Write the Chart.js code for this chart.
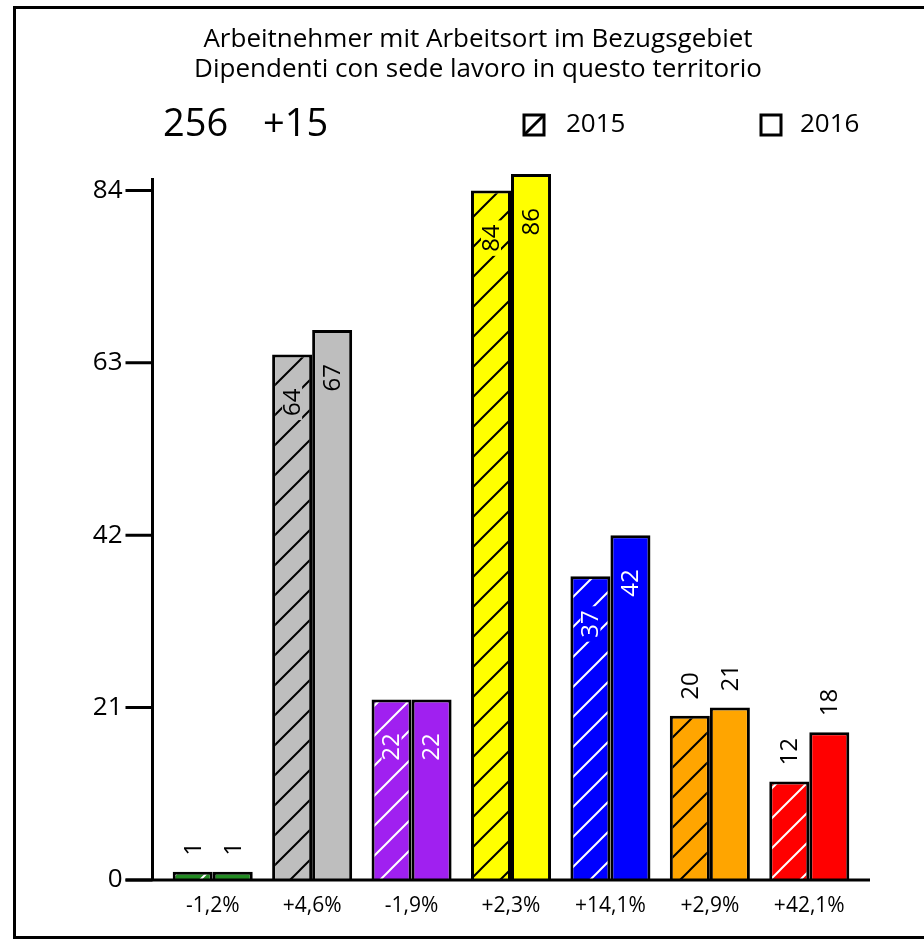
<!DOCTYPE html>
<html>
<head>
<meta charset="utf-8">
<script src="https://cdn.jsdelivr.net/npm/chart.js@4/dist/chart.umd.min.js"></script>
<style>
  html, body { margin: 0; padding: 0; background: #fff; }
  canvas { display: block; }
</style>
</head>
<body>
<canvas id="chart" width="924" height="942"></canvas>
<script>
// Employees by sector, 2015 vs 2016
const categories = ['-1,2%', '+4,6%', '-1,9%', '+2,3%', '+14,1%', '+2,9%', '+42,1%'];
const values2015 = [1, 64, 22, 84, 37, 20, 12];
const values2016 = [1, 67, 22, 86, 42, 21, 18];
const barColors = ['#228b22', '#bebebe', '#a020f0', '#ffff00', '#0000ff', '#ffa500', '#ff0000'];
const hatchColors = ['#ffffff', '#000000', '#ffffff', '#000000', '#ffffff', '#000000', '#ffffff'];
const insideLabelColors = ['#000000', '#000000', '#ffffff', '#000000', '#ffffff', '#000000', '#ffffff'];
const yTicks = [0, 21, 42, 63, 84];
const seriesNames = ['2015', '2016'];
const titleLines = ['Arbeitnehmer mit Arbeitsort im Bezugsgebiet', 'Dipendenti con sede lavoro in questo territorio'];
const totalText = '256';
const changeText = '+15';

const FONT = '"Open Sans", Lato, sans-serif';
const canvas = document.getElementById('chart');
const ctx = canvas.getContext('2d');

function hatchPattern(bg, fg) {
  const s = 30;
  const c = document.createElement('canvas');
  c.width = s; c.height = s;
  const g = c.getContext('2d');
  g.fillStyle = bg;
  g.fillRect(0, 0, s, s);
  g.strokeStyle = fg;
  g.lineWidth = 2;
  g.beginPath();
  g.moveTo(-4, s + 4); g.lineTo(s + 4, -4);
  g.moveTo(-4, 4); g.lineTo(4, -4);
  g.moveTo(s - 4, s + 4); g.lineTo(s + 4, s - 4);
  g.stroke();
  return ctx.createPattern(c, 'repeat');
}

const hatchFills = barColors.map((c, i) => hatchPattern(c, hatchColors[i]));

// Axes, frame, titles, legend and value labels
const decorations = {
  id: 'decorations',
  afterDatasetsDraw(chart) {
    const { ctx, chartArea, scales } = chart;
    const ys = scales.y, xs = scales.x;
    const axisX = chartArea.left - 10.5;
    const y0 = ys.getPixelForValue(0);
    ctx.save();
    ctx.strokeStyle = '#000';
    ctx.fillStyle = '#000';

    // y axis line and ticks
    ctx.lineWidth = 3;
    ctx.beginPath();
    ctx.moveTo(axisX, ys.getPixelForValue(85.5));
    ctx.lineTo(axisX, y0);
    yTicks.forEach(v => {
      const py = ys.getPixelForValue(v);
      ctx.moveTo(axisX - 27, py);
      ctx.lineTo(axisX, py);
    });
    ctx.stroke();
    // baseline
    ctx.beginPath();
    ctx.moveTo(axisX - 27, y0);
    ctx.lineTo(chartArea.right + 11, y0);
    ctx.stroke();

    // y tick labels
    ctx.font = '26px ' + FONT;
    ctx.textAlign = 'right';
    ctx.textBaseline = 'middle';
    yTicks.forEach(v => ctx.fillText(String(v), axisX - 30, ys.getPixelForValue(v)));

    // category labels
    ctx.font = '21px ' + FONT;
    ctx.textAlign = 'center';
    categories.forEach((c, i) => ctx.fillText(c, xs.getPixelForValue(i), y0 + 26));

    // value labels
    ctx.font = '24px ' + FONT;
    chart.data.datasets.forEach((ds, di) => {
      const meta = chart.getDatasetMeta(di);
      meta.data.forEach((bar, i) => {
        const v = ds.data[i];
        const txt = String(v);
        const w = ctx.measureText(txt).width;
        ctx.save();
        ctx.translate(bar.x, bar.y);
        ctx.rotate(-Math.PI / 2);
        ctx.textBaseline = 'middle';
        if (v >= 22) {
          // inside the bar, below its top
          if (di === 0) {
            ctx.fillStyle = barColors[i];
            ctx.fillRect(-34 - w - 4, -10, w + 8, 20);
          }
          ctx.fillStyle = insideLabelColors[i];
          ctx.textAlign = 'right';
          ctx.fillText(txt, -34, 1);
        } else {
          ctx.fillStyle = '#000';
          ctx.textAlign = 'left';
          ctx.fillText(txt, 16, 1);
        }
        ctx.restore();
      });
    });

    // frame
    ctx.lineWidth = 3;
    ctx.strokeStyle = '#000';
    ctx.strokeRect(14.5, 7.5, 1000, 930);

    // title
    ctx.fillStyle = '#000';
    ctx.font = '26px ' + FONT;
    ctx.textAlign = 'center';
    ctx.textBaseline = 'middle';
    ctx.fillText(titleLines[0], 478, 40);
    ctx.fillText(titleLines[1], 478, 70);

    // total and change
    ctx.font = '38px ' + FONT;
    ctx.textAlign = 'left';
    ctx.fillText(totalText, 163, 125);
    ctx.fillText(changeText, 263, 125);

    // legend
    ctx.lineWidth = 3;
    ctx.strokeRect(524, 115, 20, 20);
    ctx.beginPath();
    ctx.moveTo(524, 135);
    ctx.lineTo(544, 115);
    ctx.stroke();
    ctx.strokeRect(761, 115, 20, 20);
    ctx.font = '26px ' + FONT;
    ctx.fillText(seriesNames[0], 566, 125);
    ctx.fillText(seriesNames[1], 800, 125);

    ctx.restore();
  }
};

new Chart(canvas, {
  type: 'bar',
  data: {
    labels: categories,
    datasets: [
      {
        label: seriesNames[0],
        data: values2015,
        backgroundColor: hatchFills,
        borderColor: '#000',
        borderWidth: 3,
        borderSkipped: 'start'
      },
      {
        label: seriesNames[1],
        data: values2016,
        backgroundColor: barColors,
        borderColor: '#000',
        borderWidth: 3,
        borderSkipped: 'start'
      }
    ]
  },
  options: {
    responsive: false,
    devicePixelRatio: 1,
    animation: false,
    layout: { padding: { left: 163, right: 65, top: 174, bottom: 62 } },
    datasets: { bar: { categoryPercentage: 0.805, barPercentage: 1 } },
    scales: {
      x: { display: false, offset: true },
      y: { display: false, min: 0, max: 86 }
    },
    plugins: {
      legend: { display: false },
      title: { display: false },
      tooltip: { enabled: false }
    }
  },
  plugins: [decorations]
});
</script>
</body>
</html>
